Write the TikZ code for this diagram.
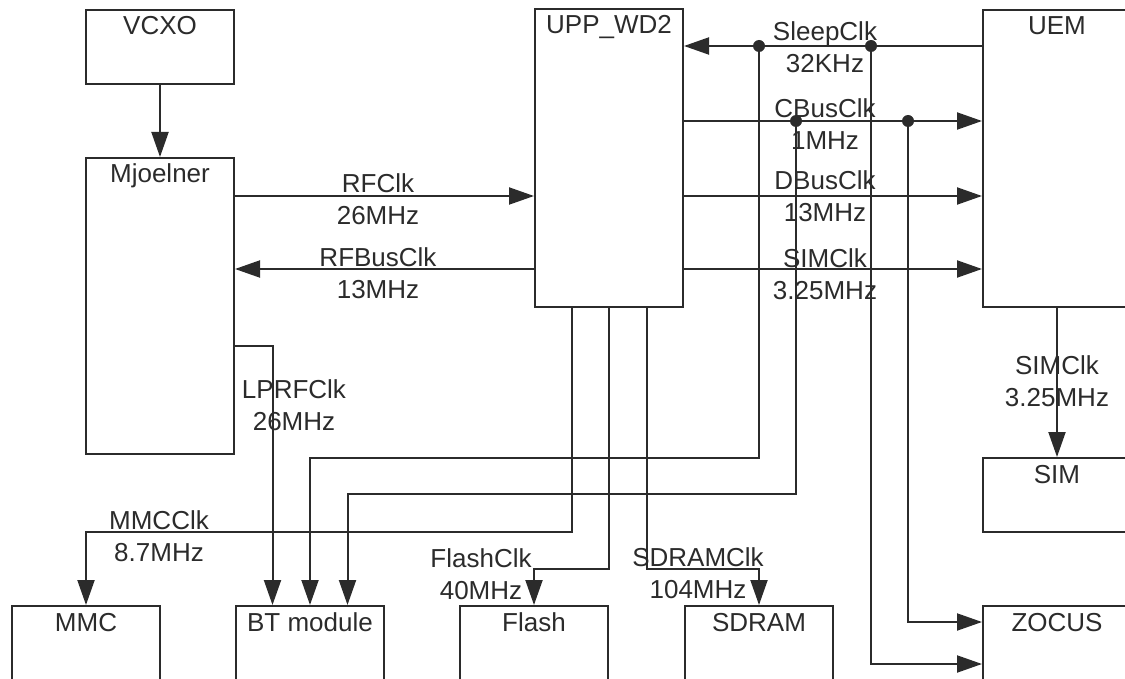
\documentclass[tikz,border=0pt]{standalone}
\usepackage{fontspec}
\setmainfont{Liberation Sans}
\usetikzlibrary{arrows.meta}
\definecolor{ink}{HTML}{2B2B2B}

\begin{document}
\begin{tikzpicture}[x=1pt,y=-1pt,>={Triangle[length=25pt,width=17pt]},
  line width=2pt,color=ink,font=\fontsize{26}{31.5}\selectfont,
  blk/.style={draw,minimum width=148pt,minimum height=#1,inner sep=0pt},
  blk/.default=74pt,
  hd/.style={anchor=base,yshift=-26pt},
  lbl/.style={align=center,inner sep=0pt}]
  \useasboundingbox (0,0) rectangle (1125,679);
  \clip (0,0) rectangle (1125,679);
  % blocks
  \node[blk,label={[hd]north:VCXO}] (vcxo) at (160,47) {};
  \node[blk=296pt,label={[hd]north:Mjoelner}] (mjoelner) at (160,306) {};
  \node[blk=298pt,label={[hd]north:UPP\_WD2}] (upp) at (609,158) {};
  \node[blk=297pt,label={[hd]north:UEM}] (uem) at (1057,158.5) {};
  \node[blk,label={[hd]north:SIM}] (sim) at (1057,495) {};
  \node[blk,label={[hd]north:ZOCUS}] (zocus) at (1057,643) {};
  \node[blk,label={[hd]north:MMC}] (mmc) at (86,643) {};
  \node[blk,label={[hd]north:BT module}] (bt) at (310,643) {};
  \node[blk,label={[hd]north:Flash}] (flash) at (534,643) {};
  \node[blk,label={[hd]north:SDRAM}] (sdram) at (759,643) {};
  % taps, rows and pins
  \coordinate (tapA) at (759,46);
  \coordinate (tapB) at (871,46);
  \coordinate (tapC) at (796,121);
  \coordinate (tapD) at (908,121);
  \coordinate (rowrf) at (0,196);
  \coordinate (rowbus) at (0,269);
  \coordinate (rowlprf) at (0,346);
  \coordinate (rowbta) at (0,458);
  \coordinate (rowbtb) at (0,494);
  \coordinate (rowmmc) at (0,532);
  \coordinate (rowmem) at (0,569);
  \coordinate (rowzoca) at (0,622);
  \coordinate (rowzocb) at (0,664);
  \coordinate (btin1) at ([xshift=-37.5pt]bt.north);
  \coordinate (btin3) at ([xshift=37.5pt]bt.north);
  \coordinate (uppout1) at ([xshift=-37pt]upp.south);
  \coordinate (uppout3) at ([xshift=38pt]upp.south);
  % clock lines
  \draw[->] (vcxo) -- (mjoelner);
  \draw[->] (mjoelner.east |- rowrf) -- (upp.west |- rowrf);
  \draw[->] (upp.west |- rowbus) -- (mjoelner.east |- rowbus);
  \draw[->] (uem.west |- tapA) -- (upp.east |- tapA);
  \draw[->] (upp.east |- tapC) -- (uem.west |- tapC);
  \draw[->] (upp.east |- rowrf) -- (uem.west |- rowrf);
  \draw[->] (upp.east |- rowbus) -- (uem.west |- rowbus);
  \draw[->] (uem) -- (sim);
  \draw[->] (mjoelner.east |- rowlprf) -| (btin1);
  \draw[->] (tapA) |- (bt.north |- rowbta) -- (bt.north);
  \draw[->] (tapC) |- (btin3 |- rowbtb) -- (btin3);
  \draw[->] (tapD) |- (zocus.west |- rowzoca);
  \draw[->] (tapB) |- (zocus.west |- rowzocb);
  \draw[->] (uppout1) |- (mmc.north |- rowmmc) -- (mmc.north);
  \draw[->] (upp.south) |- (flash.north |- rowmem) -- (flash.north);
  \draw[->] (uppout3) |- (sdram.north |- rowmem) -- (sdram.north);
  \foreach \t in {tapA,tapB,tapC,tapD} \fill (\t) circle (6pt);
  % labels
  \node[lbl] (rfclk) at (378,199) {RFClk\\26MHz};
  \node[lbl] (rfbusclk) at (378,273) {RFBusClk\\13MHz};
  \node[lbl] (sleepclk) at (825,47) {SleepClk\\32KHz};
  \node[lbl] (cbusclk) at (825,124) {CBusClk\\1MHz};
  \node[lbl] (dbusclk) at (825,196) {DBusClk\\13MHz};
  \node[lbl] (simclk) at (825,274) {SIMClk\\3.25MHz};
  \node[lbl] (simclkb) at (1057,381) {SIMClk\\3.25MHz};
  \node[lbl] (lprfclk) at (294,405) {LPRFClk\\26MHz};
  \node[lbl] (mmcclk) at (159,536) {MMCClk\\8.7MHz};
  \node[lbl] (flashclk) at (481,574) {FlashClk\\40MHz};
  \node[lbl] (sdramclk) at (698,573) {SDRAMClk\\104MHz};
\end{tikzpicture}
\end{document}
